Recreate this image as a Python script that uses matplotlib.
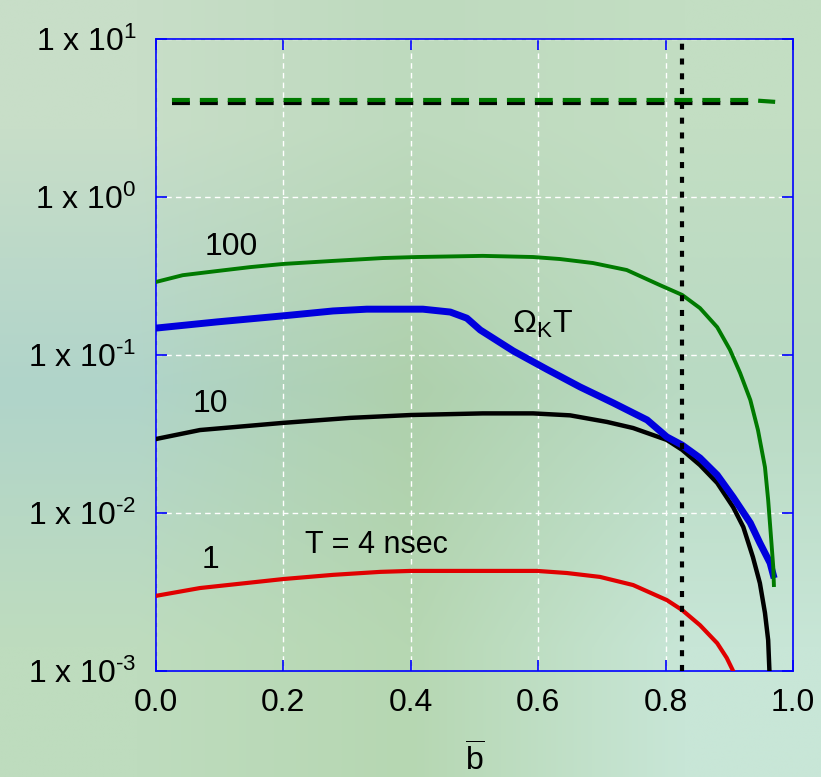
import numpy as np
import matplotlib
matplotlib.use("Agg")
import matplotlib.pyplot as plt

plt.rcParams['font.family'] = ['Liberation Sans', 'DejaVu Sans']
plt.rcParams['mathtext.fontset'] = 'custom'
plt.rcParams['mathtext.rm'] = 'Liberation Sans'
plt.rcParams['mathtext.it'] = 'Liberation Sans'
plt.rcParams['mathtext.bf'] = 'Liberation Sans'

# ---- data ----
x_green = [0.0, 0.042, 0.096, 0.148, 0.2, 0.278, 0.357, 0.41, 0.513, 0.592, 0.634, 0.686, 0.739,
           0.791, 0.826, 0.854, 0.881, 0.901, 0.917, 0.933, 0.945, 0.956, 0.961, 0.965, 0.969, 0.970]
y_green = [0.29, 0.32, 0.34, 0.36, 0.377, 0.394, 0.411, 0.417, 0.424, 0.417, 0.405, 0.382, 0.345,
           0.277, 0.240, 0.198, 0.150, 0.108, 0.0769, 0.0519, 0.0335, 0.0195, 0.0121, 0.00746, 0.00455, 0.0035]

x_blue = [0.0, 0.096, 0.2, 0.278, 0.331, 0.419, 0.462, 0.488, 0.509, 0.529, 0.561, 0.614, 0.666,
          0.718, 0.771, 0.802, 0.826, 0.854, 0.881, 0.906, 0.933, 0.948, 0.964, 0.969]
y_blue = [0.148, 0.162, 0.177, 0.19, 0.195, 0.195, 0.187, 0.171, 0.144, 0.128, 0.106, 0.081, 0.0627,
          0.0497, 0.0388, 0.0303, 0.0269, 0.0223, 0.0174, 0.0126, 0.00865, 0.00646, 0.00483, 0.00406]

x_black = [0.0, 0.069, 0.2, 0.305, 0.4, 0.513, 0.592, 0.65, 0.708, 0.749, 0.802, 0.826, 0.854, 0.881,
           0.906, 0.922, 0.937, 0.948, 0.956, 0.961, 0.963]
y_black = [0.0294, 0.0335, 0.0372, 0.040, 0.0417, 0.0427, 0.0427, 0.0415, 0.0377, 0.0345, 0.029, 0.0251,
           0.0201, 0.0155, 0.0109, 0.00815, 0.00527, 0.0036, 0.00233, 0.00157, 0.001]

x_red = [0.0, 0.069, 0.2, 0.278, 0.352, 0.4, 0.598, 0.645, 0.697, 0.749, 0.802, 0.826, 0.854, 0.881,
         0.896, 0.906]
y_red = [0.00299, 0.00335, 0.00382, 0.00406, 0.00424, 0.0043, 0.0043, 0.00417, 0.00394, 0.0035, 0.00281,
         0.00243, 0.00195, 0.0015, 0.00121, 0.001]

x_dash_green = [0.025, 0.93, 0.972]
y_dash_green = [4.11, 4.11, 4.0]
x_dash_black = [0.025, 0.94]
y_dash_black = [3.94, 3.94]

b_marker = 0.826

xticks = [0.0, 0.2, 0.4, 0.6, 0.8, 1.0]
xtick_labels = ['0.0', '0.2', '0.4', '0.6', '0.8', '1.0']
yticks = [1e-3, 1e-2, 1e-1, 1e0, 1e1]
ytick_labels = [r'$\mathregular{1\ x\ 10^{\text{-}3}}$', r'$\mathregular{1\ x\ 10^{\text{-}2}}$',
                r'$\mathregular{1\ x\ 10^{\text{-}1}}$', r'$\mathregular{1\ x\ 10^{0}}$',
                r'$\mathregular{1\ x\ 10^{1}}$']

# ---- figure ----
fig = plt.figure(figsize=(8.21, 7.77), dpi=100)

# background gradient
bg = fig.add_axes([0, 0, 1, 1], zorder=-10)
grid_cols = np.array([
    [(200, 222, 200), (190, 218, 190), (195, 222, 195)],
    [(176, 212, 202), (174, 208, 172), (185, 218, 195)],
    [(190, 220, 190), (182, 215, 178), (200, 230, 215)],
], dtype=float) / 255.0
bg.imshow(grid_cols, extent=[0, 1, 0, 1], aspect='auto', interpolation='bilinear')
bg.set_axis_off()

ax = fig.add_axes([156/821, 1-671/777, (793-156)/821, (671-39)/777])
ax.patch.set_alpha(0)
ax.set_yscale('log')
ax.set_xlim(0, 1.0)
ax.set_ylim(1e-3, 1e1)

ax.grid(True, which='major', color='white', linestyle=(0, (4, 3)), linewidth=1.0)
ax.minorticks_off()

ax.plot(x_dash_black, y_dash_black, color='black', lw=3, linestyle=(0, (4.3, 2.4)), zorder=3)
ax.plot(x_dash_green, y_dash_green, color='#007a00', lw=3, linestyle=(0, (4.3, 2.4)), zorder=3)

ax.plot(x_red, y_red, color='#e00000', lw=3, zorder=4, solid_joinstyle='round')
ax.plot(x_black, y_black, color='black', lw=3.2, zorder=4, solid_joinstyle='round')
ax.plot(x_blue, y_blue, color='#0000dd', lw=5, zorder=4, solid_joinstyle='round')
ax.plot(x_green, y_green, color='#007a00', lw=2.8, zorder=5, solid_joinstyle='round')

ax.axvline(b_marker, color='black', lw=3, linestyle=(0, (1.45, 2.1)), zorder=6)

fs = 23
ax.text(0.077, 0.43, '100', fontsize=fs, va='baseline', ha='left')
ax.text(0.058, 0.0436, '10', fontsize=fs, va='baseline', ha='left')
ax.text(0.072, 0.00449, '1', fontsize=fs, va='baseline', ha='left')
ax.text(0.234, 0.00558, 'T = 4 nsec', fontsize=22, va='baseline', ha='left')
ax.text(0.559, 0.1377, r'$\mathregular{\Omega_K T}$', fontsize=fs, va='baseline', ha='left')

ax.set_xticks(xticks)
ax.set_xticklabels(xtick_labels)
ax.set_yticks(yticks)
ax.set_yticklabels(ytick_labels)
ax.tick_params(axis='both', which='major', direction='in', length=8, width=1.2,
               color='#0000ff', top=True, right=True, labelsize=fs, pad=12)
ax.tick_params(axis='y', pad=14)
for s in ax.spines.values():
    s.set_color('#0000ff')
    s.set_linewidth(1.2)

ax.set_xlabel(r'$\mathregular{\overline{b}}$', fontsize=fs, labelpad=18)

fig.savefig('out.png', dpi=100)
